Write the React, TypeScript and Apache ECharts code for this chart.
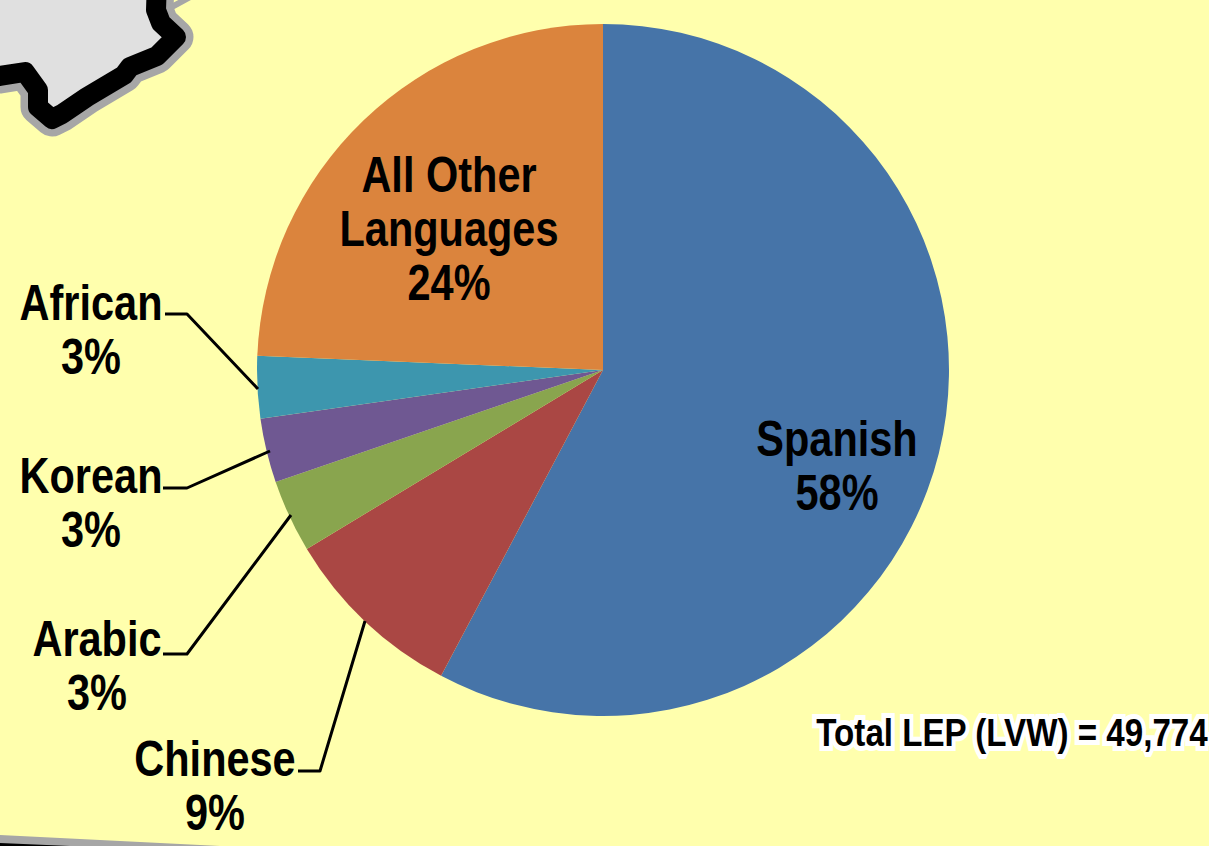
import React, { useEffect, useRef } from "react";
import * as echarts from "echarts";

const languages = ["Spanish", "Chinese", "Arabic", "Korean", "African", "All Other\nLanguages"];
const shares = [57.75, 8.6, 3.4, 3.0, 2.9, 24.35];
const colors = ["#4674A8", "#AA4744", "#89A54E", "#6F5892", "#3D96AE", "#DB843D"];
const totalText = "Total LEP (LVW) = 49,774";

const FONT = '"Liberation Sans", Arial, sans-serif';
const labelCenters: number[][] = [
  [837, 466],
  [215, 786],
  [97, 666],
  [91, 503],
  [91, 330],
  [449, 229],
];
const leaders: (number[][] | null)[] = [
  null,
  [[298, 771], [320, 771], [365, 621]],
  [[163, 654], [187, 654], [291, 515]],
  [[163, 488], [187, 488], [270, 451]],
  [[165, 314], [187, 314], [258, 389]],
  null,
];
const border = [
  [-20, 78], [0, 76], [25, 72], [38, 90], [38, 107], [52, 119], [62, 114], [87, 97],
  [124, 75], [130, 67], [157, 56], [176, 37], [161, 23], [156, 10], [157, -20],
];

export default function App() {
  const ref = useRef<HTMLDivElement>(null);
  useEffect(() => {
    const chart = echarts.init(ref.current!, null, { renderer: "svg" });
    const edge = (pts: number[][], color: string, width: number) => ({
      type: "polyline",
      silent: true,
      shape: { points: pts },
      style: { fill: "none", stroke: color, lineWidth: width, lineJoin: "round", lineCap: "round" },
    });
    const area = (pts: number[][], color: string) => ({
      type: "polygon",
      silent: true,
      shape: { points: pts },
      style: { fill: color },
    });
    const text = (t: string, x: number, y: number, scaleX: number, extra: any) => ({
      type: "text",
      silent: true,
      x,
      y,
      scaleX,
      z: 20,
      style: {
        text: t,
        fontFamily: FONT,
        fontWeight: "bold",
        fill: "#000",
        align: "center",
        verticalAlign: "middle",
        ...extra,
      },
    });
    chart.setOption({
      animation: false,
      backgroundColor: "#FFFFAD",
      graphic: [
        edge(border, "#A6A6A6", 35),
        edge([[168, 9], [192, -4]], "#A6A6A6", 6),
        area([[-20, -20], ...border, [-20, -20]], "#E0E0E0"),
        edge(border, "#000", 20),
        area([[0, 835], [220, 846], [0, 846]], "#A6A6A6"),
        area([[0, 843], [70, 846], [0, 846]], "#000"),
        ...leaders.flatMap((pts) =>
          pts
            ? [{ ...edge(pts, "#000", 3), z: 10, style: { fill: "none", stroke: "#000", lineWidth: 3, lineJoin: "round" } }]
            : []
        ),
        ...languages.map((name, i) =>
          text(`${name}\n${Math.round(shares[i])}%`, labelCenters[i][0], labelCenters[i][1], 0.83, {
            fontSize: 50,
            lineHeight: 54,
          })
        ),
        text(totalText, 1012, 733, 0.85, {
          fontSize: 39,
          stroke: "#fff",
          lineWidth: 10,
        }),
      ],
      series: [
        {
          type: "pie",
          center: [603, 370],
          radius: [0, 346],
          startAngle: 90,
          clockwise: true,
          silent: true,
          z: 5,
          label: { show: false },
          labelLine: { show: false },
          data: languages.map((name, i) => ({
            name,
            value: shares[i],
            itemStyle: { color: colors[i] },
          })),
        },
      ],
    });
    return () => chart.dispose();
  }, []);
  return <div ref={ref} style={{ position: "absolute", left: 0, top: 0, width: 1209, height: 846 }} />;
}
